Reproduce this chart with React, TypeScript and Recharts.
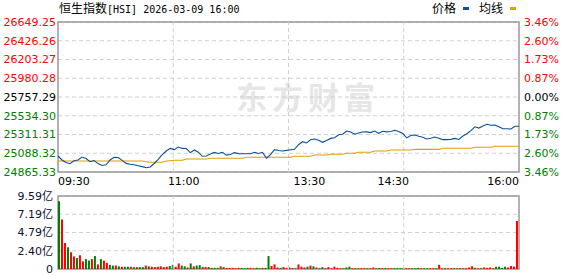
import {
  ComposedChart,
  Line,
  Bar,
  Cell,
  XAxis,
  YAxis,
  CartesianGrid,
  ReferenceLine,
  ReferenceArea,
} from "recharts";

const RED = "#ff0000";
const GREEN = "#008000";
const BLUE = "#0b4f9e";
const GOLD = "#e0a000";
const GRID = "#d0d0d0";
const BORDER = "#999999";
const AXIS_FONT = "DejaVu Sans, Noto Sans CJK SC";

const PREV_CLOSE = 25757.29;
const TOTAL_MIN = 330;

const priceTicks = [24865.33, 25088.32, 25311.31, 25534.3, 25757.29, 25980.28, 26203.27, 26426.26, 26649.25];
const timeTicks = [0, 90, 180, 240, 330];
const timeLabels = ["09:30", "11:00", "13:30", "14:30", "16:00"];
const gridMinutes = [82.5, 165, 247.5];
const volTicks = [0, 2.4, 4.79, 7.19, 9.59];

// price, sampled evenly over the session
const price = [
  25055.6, 25008.0, 24978.3, 24964.0, 24999.7, 25008.0, 25043.7, 25025.9, 24987.8, 25002.1,
  24965.2, 24942.6, 24950.9, 25008.0, 25041.3, 25037.7, 25003.3, 24967.6, 24956.9, 24950.9,
  24940.2, 24929.5, 24916.4, 24924.8, 24966.4, 25016.3, 25071.0, 25115.1, 25146.0, 25131.7,
  25162.6, 25146.0, 25144.8, 25096.0, 25126.9, 25100.8, 25052.0, 25055.6, 25079.4, 25098.4,
  25085.3, 25099.6, 25066.3, 25073.4, 25096.0, 25084.1, 25082.9, 25082.9, 25082.9, 25099.6,
  25085.3, 25099.6, 25030.0, 25072.2, 25131.7, 25121.0, 25115.1, 25122.2, 25130.5, 25135.3,
  25190.0, 25225.7, 25210.2, 25248.3, 25257.8, 25242.3, 25218.5, 25239.9, 25264.9, 25272.0,
  25307.7, 25313.7, 25352.9, 25341.0, 25314.9, 25329.1, 25341.0, 25342.2, 25333.9, 25351.7,
  25325.6, 25350.5, 25342.2, 25347.0, 25362.4, 25348.2, 25323.2, 25270.9, 25299.4, 25305.3,
  25289.9, 25279.2, 25257.8, 25267.3, 25281.6, 25266.1, 25250.6, 25250.6, 25253.0, 25264.9,
  25251.8, 25293.4, 25319.6, 25357.7, 25402.9, 25387.4, 25411.2, 25432.6, 25421.9, 25424.3,
  25402.9, 25380.3, 25379.1, 25376.7, 25408.8, 25408.8,
];

// average price line
const avg = [
  24996, 24996, 24996, 24996, 24996, 24996, 24996, 24996, 24996, 24996,
  24996, 24996, 24996, 24996, 24996, 24996, 24996, 24996, 24996, 24996,
  24996, 24996, 24988, 24981, 24981, 24981, 24981, 24996, 25000, 25005,
  25005, 25005, 25020, 25020, 25020, 25020, 25020, 25020, 25028, 25028,
  25028, 25028, 25028, 25028, 25028, 25028, 25028, 25040, 25040, 25040,
  25040, 25040, 25040, 25040, 25040, 25040, 25040, 25040, 25040, 25052,
  25052, 25052, 25052, 25052, 25067, 25067, 25067, 25067, 25076, 25076,
  25076, 25076, 25088, 25088, 25088, 25100, 25100, 25100, 25100, 25115,
  25115, 25115, 25115, 25127, 25127, 25127, 25127, 25127, 25127, 25135,
  25135, 25135, 25135, 25135, 25135, 25135, 25147, 25147, 25147, 25147,
  25147, 25147, 25147, 25147, 25159, 25159, 25159, 25159, 25159, 25171,
  25171, 25171, 25171, 25171, 25171, 25171,
];

// volume in 亿, and whether the bar is up (red) or down (green)
const volume = [
  8.9, 6.5, 3.4, 2.85, 2.2, 1.66, 1.45, 1.8, 1.0, 1.3,
  1.1, 1.3, 1.7, 0.6, 1.3, 1.1, 0.8, 0.55, 0.45, 0.45,
  0.35, 0.3, 0.3, 0.3, 0.3, 0.25, 0.25, 0.25, 0.25, 0.45,
  0.35, 0.3, 0.25, 0.3, 0.35, 0.25, 0.3, 0.4, 0.55, 0.3,
  0.73, 0.45, 0.35, 0.2, 0.73, 0.35, 0.45, 0.5, 0.25, 0.25,
  0.25, 0.15, 0.15, 0.15, 0.35, 0.25, 0.15, 0.15, 0.15, 0.1,
  0.15, 0.15, 0.1, 0.15, 0.15, 0.1, 0.15, 0.1, 0.15, 0.15,
  1.7, 0.4, 0.6, 0.2, 0.15, 0.25, 0.15, 0.2, 0.1, 0.1,
  0.6, 0.3, 0.2, 0.3, 0.45, 0.35, 0.2, 0.1, 0.25, 0.1,
  0.25, 0.1, 0.3, 0.15, 0.1, 0.1, 0.2, 0.3, 0.1, 0.1,
  0.1, 0.1, 0.1, 0.1, 0.1, 0.2, 0.1, 0.15, 0.1, 0.12,
  0.1, 0.1, 0.1, 0.1, 0.1, 0.12, 0.1, 0.1, 0.1, 0.1,
  0.15, 0.1, 0.1, 0.1, 0.1, 0.1, 0.1, 0.55, 0.1, 0.1,
  0.1, 0.1, 0.1, 0.1, 0.1, 0.1, 0.1, 0.2, 0.35, 0.15,
  0.1, 0.1, 0.2, 0.15, 0.2, 0.1, 0.3, 0.3, 0.15, 0.3,
  0.2, 0.4, 0.3, 6.3,
];
const volumeUp = [
  0, 1, 1, 0, 1, 1, 0, 1, 1, 0,
  0, 1, 0, 1, 0, 1, 1, 0, 0, 1,
  0, 1, 0, 0, 1, 0, 1, 0, 0, 1,
  0, 1, 1, 1, 1, 1, 1, 0, 0, 1,
  1, 0, 0, 1, 0, 1, 0, 0, 1, 1,
  0, 1, 0, 0, 1, 0, 1, 1, 1, 1,
  1, 0, 0, 0, 1, 1, 0, 0, 1, 0,
  0, 1, 1, 1, 0, 1, 1, 0, 1, 0,
  1, 1, 1, 0, 1, 0, 1, 0, 0, 1,
  1, 1, 1, 1, 1, 0, 0, 0, 1, 1,
  0, 1, 1, 0, 1, 1, 0, 0, 1, 0,
  1, 1, 0, 0, 0, 0, 1, 1, 0, 0,
  0, 1, 0, 0, 1, 1, 0, 1, 1, 0,
  1, 1, 0, 1, 0, 1, 1, 1, 1, 0,
  1, 0, 1, 1, 1, 1, 0, 0, 0, 0,
  1, 1, 1, 1,
];

const lineData = price.map((p, i) => ({
  t: (i * TOTAL_MIN) / (price.length - 1),
  price: p,
  avg: avg[i],
}));

const volData = volume.map((v, i) => ({
  t: ((i + 0.5) * TOTAL_MIN) / volume.length,
  vol: v,
  up: volumeUp[i],
}));

function levelColor(v: number) {
  if (v > PREV_CLOSE + 0.005) return RED;
  if (v < PREV_CLOSE - 0.005) return GREEN;
  return "#000";
}

const LeftPriceTick = (props: any) => {
  const { x, y, payload } = props;
  const v = payload.value as number;
  return (
    <text x={x} y={y} dy="0.36em" textAnchor="end" fontSize={11} fontFamily={AXIS_FONT} fill={levelColor(v)}>
      {v.toFixed(2)}
    </text>
  );
};

const RightPctTick = (props: any) => {
  const { x, y, payload } = props;
  const v = payload.value as number;
  const pct = (Math.abs(v - PREV_CLOSE) / PREV_CLOSE) * 100;
  return (
    <text x={x} y={y} dy="0.36em" textAnchor="start" fontSize={11} fontFamily={AXIS_FONT} fill={levelColor(v)}>
      {pct.toFixed(2) + "%"}
    </text>
  );
};

const TimeTick = (props: any) => {
  const { x, y, payload } = props;
  const idx = timeTicks.indexOf(payload.value);
  const anchor = idx === 0 ? "start" : idx === timeTicks.length - 1 ? "end" : "middle";
  return (
    <text x={x} y={y} dy="0.71em" textAnchor={anchor} fontSize={11} fontFamily={AXIS_FONT} fill="#000">
      {timeLabels[idx]}
    </text>
  );
};

const VolTick = (props: any) => {
  const { x, y, payload } = props;
  const v = payload.value as number;
  return (
    <text x={x} y={y} dy="0.36em" textAnchor="end" fontSize={11} fontFamily={AXIS_FONT} fill="#101030">
      {v === 0 ? "0" : v.toFixed(2) + "亿"}
    </text>
  );
};

export default function App() {
  return (
    <div
      style={{
        position: "absolute",
        left: 0,
        top: 0,
        width: 578,
        height: 276,
        background: "#fff",
        overflow: "hidden",
      }}
    >
      {/* watermark */}
      <div
        style={{
          position: "absolute",
          left: 236,
          top: 78,
          fontSize: 31,
          fontWeight: 700,
          letterSpacing: 5,
          color: "#e6e6e6",
          fontFamily: "Noto Sans CJK SC",
          lineHeight: "36px",
          whiteSpace: "nowrap",
        }}
      >
        东方财富
      </div>

      {/* title */}
      <div style={{ position: "absolute", left: 59, top: 1, lineHeight: "14px", whiteSpace: "nowrap", color: "#000" }}>
        <span style={{ fontFamily: "Noto Sans CJK SC", fontSize: 12 }}>恒生指数</span>
        <span style={{ fontFamily: "DejaVu Sans Mono", fontSize: 10 }}>[HSI] 2026-03-09 16:00</span>
      </div>

      {/* legend */}
      <div style={{ position: "absolute", left: 432, top: 1, lineHeight: "14px", whiteSpace: "nowrap", fontFamily: "Noto Sans CJK SC", fontSize: 12 }}>
        <span>价格</span>
        <span style={{ display: "inline-block", width: 6, height: 3, background: BLUE, margin: "0 10px 2px 7px", verticalAlign: "middle" }} />
        <span>均线</span>
        <span style={{ display: "inline-block", width: 6, height: 3, background: GOLD, margin: "0 0 2px 7px", verticalAlign: "middle" }} />
      </div>

      <div style={{ position: "absolute", left: 0, top: 0 }}>
        <ComposedChart width={578} height={190} data={lineData} margin={{ top: 22, right: 0, bottom: 0, left: 0 }}>
          <CartesianGrid yAxisId="left" vertical={false} stroke={GRID} strokeDasharray="4 3" />
          <XAxis
            dataKey="t"
            type="number"
            domain={[0, TOTAL_MIN]}
            ticks={timeTicks}
            tick={<TimeTick />}
            tickLine={false}
            axisLine={false}
            tickSize={0}
            tickMargin={5}
            height={18}
            interval={0}
          />
          <YAxis
            yAxisId="left"
            domain={[priceTicks[0], priceTicks[priceTicks.length - 1]]}
            ticks={priceTicks}
            tick={<LeftPriceTick />}
            tickLine={false}
            axisLine={false}
            tickSize={0}
            tickMargin={2}
            width={58}
            interval={0}
            allowDataOverflow
          />
          <YAxis
            yAxisId="right"
            orientation="right"
            domain={[priceTicks[0], priceTicks[priceTicks.length - 1]]}
            ticks={priceTicks}
            tick={<RightPctTick />}
            tickLine={false}
            axisLine={false}
            tickSize={0}
            tickMargin={5}
            width={59}
            interval={0}
            allowDataOverflow
          />
          {gridMinutes.map((m) => (
            <ReferenceLine key={m} yAxisId="left" x={m} stroke={GRID} strokeDasharray="4 3" />
          ))}
          <ReferenceArea
            yAxisId="left"
            x1={0}
            x2={TOTAL_MIN}
            y1={priceTicks[0]}
            y2={priceTicks[priceTicks.length - 1]}
            fill="none"
            stroke={BORDER}
            strokeWidth={1.5}
          />
          <Line yAxisId="right" dataKey="price" stroke="none" dot={false} activeDot={false} isAnimationActive={false} />
          <Line yAxisId="left" type="linear" dataKey="avg" stroke={GOLD} strokeWidth={1.1} dot={false} isAnimationActive={false} />
          <Line yAxisId="left" type="linear" dataKey="price" stroke={BLUE} strokeWidth={1.1} dot={false} isAnimationActive={false} />
        </ComposedChart>
      </div>

      <div style={{ position: "absolute", left: 0, top: 186 }}>
        <ComposedChart width={578} height={90} data={volData} margin={{ top: 10, right: 59, bottom: 7, left: 0 }}>
          <CartesianGrid vertical={false} stroke={GRID} strokeDasharray="4 3" />
          <XAxis dataKey="t" type="number" domain={[0, TOTAL_MIN]} hide />
          <YAxis
            domain={[0, volTicks[volTicks.length - 1]]}
            ticks={volTicks}
            tick={<VolTick />}
            tickLine={false}
            axisLine={false}
            tickSize={0}
            tickMargin={5}
            width={58}
            interval={0}
            allowDataOverflow
          />
          {gridMinutes.map((m) => (
            <ReferenceLine key={m} x={m} stroke={GRID} strokeDasharray="4 3" />
          ))}
          <Bar dataKey="vol" barSize={2} isAnimationActive={false}>
            {volData.map((d, i) => (
              <Cell key={i} fill={d.up ? RED : GREEN} />
            ))}
          </Bar>
          <ReferenceArea
            x1={0}
            x2={TOTAL_MIN}
            y1={0}
            y2={volTicks[volTicks.length - 1]}
            fill="none"
            stroke={BORDER}
            strokeWidth={1.5}
          />
        </ComposedChart>
      </div>
    </div>
  );
}
